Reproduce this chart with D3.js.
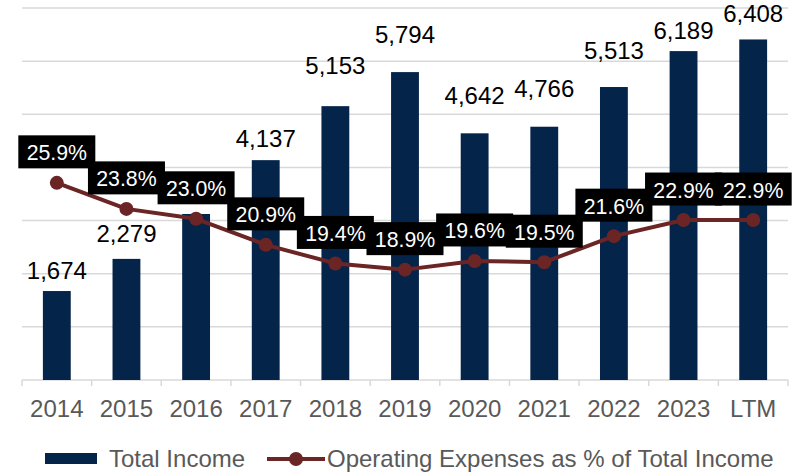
<!DOCTYPE html>
<html>
<head>
<meta charset="utf-8">
<script src="https://cdn.jsdelivr.net/npm/d3@7"></script>
<style>
  body { margin: 0; background: #fff; }
  svg text { font-family: "Liberation Sans", Arial, sans-serif; }
</style>
</head>
<body>
<div id="chart"></div>
<script>
// chart data
let categories = ["2014", "2015", "2016", "2017", "2018", "2019", "2020", "2021", "2022", "2023", "LTM"];
let totalIncome = [1674, 2279, 3124, 4137, 5153, 5794, 4642, 4766, 5513, 6189, 6408];
let opexPct = [0.259, 0.238, 0.230, 0.209, 0.194, 0.189, 0.196, 0.195, 0.216, 0.229, 0.229];
let incomeTicks = [0, 1000, 2000, 3000, 4000, 5000, 6000, 7000];

// how far each value label sits above its bar (Excel moved some to dodge the % boxes)
// null = label hidden behind the % box in the original
let labelGap = [12, 17, null, 13, 32, 29, 29, 30, 28, 12, 17];

let barColor = "#052449";
let lineColor = "#6b2525";
let gridColor = "#d9d9d9";
let axisText = "#595959";

let width = 811, height = 473;
let margin = { top: 8, right: 23, bottom: 93, left: 22 };

let svg = d3.select("#chart").append("svg")
    .attr("width", width)
    .attr("height", height);

let x = d3.scaleBand()
    .domain(categories)
    .range([margin.left, width - margin.right])
    .paddingInner(0.6)
    .paddingOuter(0.3);

let y = d3.scaleLinear()
    .domain([0, 7000])
    .range([height - margin.bottom, margin.top]);

// secondary axis for the % line (not shown)
let y2 = d3.scaleLinear()
    .domain([0.10, 0.40])
    .range([height - margin.bottom, margin.top]);

// gridlines
svg.append("g")
    .selectAll("line")
    .data(incomeTicks)
    .enter().append("line")
    .attr("x1", margin.left)
    .attr("x2", width - margin.right)
    .attr("y1", d => y(d))
    .attr("y2", d => y(d))
    .attr("stroke", gridColor)
    .attr("stroke-width", 1.5);

// category boundary ticks under the axis
let bounds = d3.range(categories.length + 1).map(i => x.range()[0] + i * x.step());
svg.append("g")
    .selectAll("line")
    .data(bounds)
    .enter().append("line")
    .attr("x1", d => d)
    .attr("x2", d => d)
    .attr("y1", y(0))
    .attr("y2", y(0) + 6)
    .attr("stroke", gridColor)
    .attr("stroke-width", 1.5);

// x labels
svg.append("g")
    .selectAll("text")
    .data(categories)
    .enter().append("text")
    .attr("x", d => x(d) + x.bandwidth() / 2)
    .attr("y", y(0) + 37)
    .attr("text-anchor", "middle")
    .attr("font-size", "24px")
    .attr("fill", axisText)
    .text(d => d);

// bars
svg.append("g")
    .selectAll("rect")
    .data(totalIncome)
    .enter().append("rect")
    .attr("x", (d, i) => x(categories[i]))
    .attr("y", d => y(d))
    .attr("width", x.bandwidth())
    .attr("height", d => y(0) - y(d))
    .attr("fill", barColor);

// bar value labels
let shown = totalIncome.map((d, i) => ({ v: d, i: i })).filter(d => labelGap[d.i] !== null);
svg.append("g")
    .selectAll("text")
    .data(shown)
    .enter().append("text")
    .attr("x", d => x(categories[d.i]) + x.bandwidth() / 2)
    .attr("y", d => y(d.v) - labelGap[d.i])
    .attr("text-anchor", "middle")
    .attr("font-size", "24px")
    .attr("fill", "#000")
    .text(d => d3.format(",")(d.v));

// the % line
let line = d3.line()
    .x((d, i) => x(categories[i]) + x.bandwidth() / 2)
    .y(d => y2(d));

svg.append("path")
    .datum(opexPct)
    .attr("d", line)
    .attr("fill", "none")
    .attr("stroke", lineColor)
    .attr("stroke-width", 4)
    .attr("stroke-linejoin", "round");

svg.append("g")
    .selectAll("circle")
    .data(opexPct)
    .enter().append("circle")
    .attr("cx", (d, i) => x(categories[i]) + x.bandwidth() / 2)
    .attr("cy", d => y2(d))
    .attr("r", 7)
    .attr("fill", lineColor);

// % labels in black boxes
let pctFmt = d3.format(".1%");
let boxW = 77, boxH = 33;
let pctLabels = svg.append("g")
    .selectAll("g")
    .data(opexPct)
    .enter().append("g")
    .attr("transform", (d, i) => `translate(${x(categories[i]) + x.bandwidth() / 2},${y2(d) - 31})`);

pctLabels.append("rect")
    .attr("x", -boxW / 2)
    .attr("y", -boxH / 2)
    .attr("width", boxW)
    .attr("height", boxH)
    .attr("fill", "#000");

pctLabels.append("text")
    .attr("x", 0)
    .attr("y", 8.5)
    .attr("text-anchor", "middle")
    .attr("font-size", "21.3px")
    .attr("fill", "#fff")
    .text(d => pctFmt(d));

// legend
let legend = svg.append("g").attr("class", "legend");

legend.append("rect")
    .attr("x", 45)
    .attr("y", 453)
    .attr("width", 52)
    .attr("height", 11)
    .attr("fill", barColor);

legend.append("text")
    .attr("x", 109)
    .attr("y", 467)
    .attr("font-size", "24px")
    .attr("fill", axisText)
    .text("Total Income");

legend.append("line")
    .attr("x1", 267)
    .attr("x2", 325)
    .attr("y1", 459)
    .attr("y2", 459)
    .attr("stroke", lineColor)
    .attr("stroke-width", 4);

legend.append("circle")
    .attr("cx", 296)
    .attr("cy", 459)
    .attr("r", 7)
    .attr("fill", lineColor);

legend.append("text")
    .attr("x", 327)
    .attr("y", 467)
    .attr("font-size", "24px")
    .attr("fill", axisText)
    .text("Operating Expenses as % of Total Income");
</script>
</body>
</html>
